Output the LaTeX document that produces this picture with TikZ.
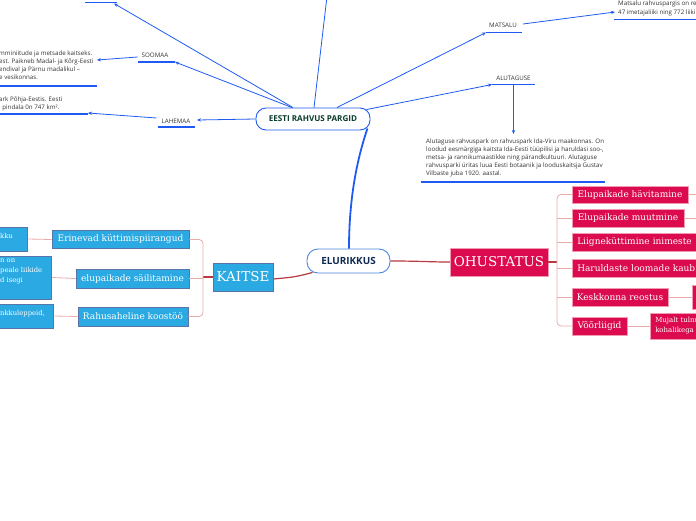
\documentclass[tikz,border=0pt]{standalone}
\usepackage{fontspec}
\setmainfont{DejaVu Serif}
\newfontfamily\osans{Open Sans}
\usetikzlibrary{arrows.meta,calc}
\definecolor{crim}{HTML}{DC0A4E}
\definecolor{crimedge}{HTML}{F29AB0}
\definecolor{sky}{HTML}{2AA9E2}
\definecolor{skyedge}{HTML}{5A74A8}
\definecolor{lnk}{HTML}{1F5BF2}
\definecolor{pinkln}{HTML}{E9AAAA}
\definecolor{redln}{HTML}{B63A3E}
\definecolor{navy}{HTML}{0E2A52}
\definecolor{dgreen}{HTML}{0B3A2C}
\definecolor{pillblue}{HTML}{4A87DE}
\definecolor{txt}{HTML}{333333}
\tikzset{
 rbox/.style={fill=crim, draw=crimedge, line width=0.5pt, text=white, inner sep=0pt, font=\fontsize{9}{10}\selectfont},
 bbox/.style={fill=sky, draw=skyedge, line width=0.6pt, text=white, inner sep=0pt, font=\fontsize{9}{10}\selectfont},
 pill/.style={rounded corners=10pt, fill=white, line width=0.9pt, inner sep=0pt},
 lnkarrow/.style={draw=lnk, line width=0.8pt, -{Stealth[length=4pt,width=3.4pt]}},
 lnkline/.style={draw=lnk, line width=0.8pt},
 uline/.style={draw=lnk, line width=1.5pt},
 lab/.style={font=\osans\fontsize{6.2}{7}\selectfont, text=txt, inner sep=0pt},
 desc/.style={font=\osans\fontsize{6.2}{8.2}\selectfont, text=txt, inner sep=0pt, align=left},
 pinkc/.style={draw=pinkln, line width=0.8pt},
 redc/.style={draw=redln, line width=1.2pt},
 gtext/.style={font=\fontsize{6.8}{10}\selectfont, text=white, inner sep=0pt, align=left},
}
\begin{document}
\begin{tikzpicture}[x=1pt,y=-1pt]
\useasboundingbox (0,0) rectangle (696,520);
\clip (0,0) rectangle (696,520);

% ---------- central nodes
\node[pill, draw=lnk, minimum width=114pt, minimum height=22pt, text=dgreen, font=\osans\bfseries\fontsize{8.1}{9}\selectfont] (eesti) at (313,119) {EESTI RAHVUS PARGID};
\node[pill, rounded corners=11pt, draw=pillblue, minimum width=83pt, minimum height=24pt, text=navy, font=\osans\bfseries\fontsize{9.9}{11}\selectfont] (eliri) at (348.5,261) {ELURIKKUS};

% ---------- park labels
\node[lab] (soomaa) at (155,55) {SOOMAA};
\node[lab] (lahemaa) at (176,121) {LAHEMAA};
\node[lab] (matsalu) at (503,25) {MATSALU};
\node[lab] (alutag) at (513.5,78) {ALUTAGUSE};

\coordinate (tlA) at (85,2.5); \coordinate (tlB) at (117,2.5); \coordinate (tlTip) at (114,3.5);
\coordinate (soU1) at (138,62); \coordinate (soU2) at (175,62);
\coordinate (laU1) at (158,127); \coordinate (laU2) at (195,127); \coordinate (laTip) at (197,120);
\coordinate (maU1) at (486,32.5); \coordinate (maU2) at (522,32.5);
\coordinate (alU1) at (492,84.5); \coordinate (alU2) at (535,84.5);
\coordinate (topEnd) at (327.5,-8);
\draw[uline] (tlA) -- (tlB);
\draw[uline] (soU1) -- (soU2);
\draw[uline] (laU1) -- (laU2);
\draw[uline] (maU1) -- (maU2);
\draw[uline] (alU1) -- (alU2);

\draw[lnkarrow] ([xshift=-20pt]eesti.north) -- (tlTip);
\draw[lnkarrow] ([xshift=-21pt]eesti.north) -- (soU2);
\draw[lnkline] ([xshift=1pt]eesti.north) -- (topEnd);
\draw[lnkarrow] ([xshift=24pt]eesti.north) -- (maU1);
\draw[lnkarrow] ([xshift=-4pt,yshift=-2pt]eesti.north east) -- (alU1);
\draw[lnkarrow] (eesti.west) -- (laTip);

% ---------- descriptions
\node[desc, anchor=north west] (soDesc) at (-1,50.3) {mminiitude ja metsade kaitseks.\\est. Paikneb Madal- ja Kõrg-Eesti\\endival ja Pärnu madalikul –\\e vesikonnas.};
\node[desc, anchor=north west] (laDesc) at (-1,96.3) {ark Põhja-Eestis. Eesti\\i pindala 0n 747 km².};
\node[desc, anchor=north west, font=\osans\fontsize{6.2}{9}\selectfont] (maDesc) at (618,1) {Matsalu rahvuspargis on reg\\47 imetajaliiki ning 772 liiki s};
\node[desc, anchor=north west] (alDesc) at (426,138.2) {Alutaguse rahvuspark on rahvuspark Ida-Viru maakonnas. On\\loodud eesmärgiga kaitsta Ida-Eesti tüüpilisi ja haruldasi soo-,\\metsa- ja rannikumaastikke ning pärandkultuuri. Alutaguse\\rahvusparki üritas luua Eesti botaanik ja looduskaitsja Gustav\\Vilbaste juba 1920. aastal.};

\coordinate (soTip) at (97,60); \coordinate (laDTip) at (88,113);
\coordinate (maTip) at (615,12); \coordinate (alTip) at (513.5,134);
\coordinate (alMid) at (513.5,84.5);
\draw[lnkarrow] ([xshift=-4pt,yshift=-2pt]soomaa.west) -- (soTip);
\draw[lnkarrow] ([xshift=-5pt,yshift=3pt]lahemaa.west) -- (laDTip);
\draw[lnkarrow] ([xshift=6pt,yshift=1pt]matsalu.east) -- (maTip);
\draw[lnkarrow] (alMid) -- (alTip);

\coordinate (soL1) at (-2,86); \coordinate (soL2) at (97,86);
\coordinate (laL1) at (-2,114); \coordinate (laL2) at (88,114);
\coordinate (maL1) at (614,19.5); \coordinate (maL2) at (700,19.5);
\coordinate (alL1) at (421,182); \coordinate (alL2) at (605,182);
\draw[uline] (soL1) -- (soL2);
\draw[uline] (laL1) -- (laL2);
\draw[uline] (maL1) -- (maL2);
\draw[uline] (alL1) -- (alL2);

% ---------- EESTI -> ELURIKKUS
\draw[draw=lnk, line width=1.8pt] ([xshift=-3pt,yshift=2pt]eesti.south east) .. controls (355,165) and (349,205) .. ([xshift=0.5pt]eliri.north);

% ---------- OHUSTATUS side
\node[rbox, minimum width=98pt, minimum height=28pt, font=\fontsize{13.5}{14}\selectfont] (ohu) at (499,262) {OHUSTATUS};
\node[rbox, minimum width=116pt, minimum height=17.5pt] (hav) at (630,194.5) {Elupaikade hävitamine};
\node[rbox, minimum width=112pt, minimum height=18pt] (muut) at (628,218) {Elupaikade muutmine};
\node[rbox, anchor=west, minimum height=18pt, inner xsep=5pt, text width=126pt, align=left] (liig) at (572,242) {Liigneküttimine inimeste};
\node[rbox, anchor=west, minimum height=18pt, inner xsep=5pt, text width=126pt, align=left] (haru) at (572,268) {Haruldaste loomade kaub};
\node[rbox, minimum width=96pt, minimum height=18pt] (kesk) at (620,297) {Keskkonna reostus};
\node[rbox, minimum width=55pt, minimum height=18pt] (voor) at (599.5,326) {Võõrliigid};
\node[rbox, anchor=west, minimum width=20pt, minimum height=24pt] (keskg) at (692,297) {};
\node[rbox, anchor=west, minimum height=26pt, inner xsep=5pt, text width=60pt, align=left, font=\fontsize{7}{10}\selectfont] (voorg) at (650,326) {Mujalt tulnu\\kohalikega};

\coordinate (ob) at (557,262);
\draw[redc] (eliri.east) .. controls (420,261) and (430,262) .. (ohu.west);
\draw[redc] (ohu.east) -- (ob);
\draw[pinkc, rounded corners=4pt] (hav.west) -| (ob);
\draw[pinkc, rounded corners=4pt] (voor.west) -| (ob);
\draw[pinkc] (muut.west) -- (muut.west -| ob);
\draw[pinkc] (liig.west) -- (liig.west -| ob);
\draw[pinkc] (haru.west) -- (haru.west -| ob);
\draw[pinkc] (kesk.west) -- (kesk.west -| ob);
\coordinate (rh1) at (700,194.5); \coordinate (rh2) at (700,218);
\draw[pinkc] (hav.east) -- (rh1);
\draw[pinkc] (muut.east) -- (rh2);
\draw[pinkc] (kesk.east) -- (keskg.west);
\draw[pinkc] (voor.east) -- (voorg.west);

% ---------- KAITSE side
\node[bbox, minimum width=60pt, minimum height=28pt, font=\fontsize{13.5}{14}\selectfont] (kaitse) at (243,277) {KAITSE};
\node[bbox, minimum width=137pt, minimum height=17.5pt] (erin) at (120.5,239.5) {Erinevad küttimispiirangud};
\node[bbox, minimum width=113pt, minimum height=19pt] (elup) at (132.5,278.5) {elupaikade säilitamine};
\node[bbox, minimum width=110pt, minimum height=19pt] (rahu) at (133,316.5) {Rahusaheline koostöö};
\node[bbox, anchor=east, minimum width=40pt, minimum height=24pt] (g1) at (28,239) {};
\node[bbox, anchor=east, minimum width=62pt, minimum height=43pt] (g2) at (52,277.5) {};
\node[bbox, anchor=east, minimum width=64pt, minimum height=24pt] (g3) at (54,316) {};
\node[gtext, anchor=base west] (g1t) at (0,238.5) {kku};
\node[gtext, anchor=north west] (g2t) at (0,259) {n on\\peale liikide\\d isegi};
\node[gtext, anchor=base west] (g3t) at (0,315.5) {nkkuleppeid,};

\coordinate (kb) at (203,278);
\draw[redc] ([xshift=6pt,yshift=1pt]eliri.south west) .. controls (295,277) .. ([yshift=-2pt]kaitse.east);
\draw[redc] (kaitse.west) -- (kaitse.west -| kb);
\draw[pinkc, rounded corners=4pt] (erin.east) -| (kb);
\draw[pinkc, rounded corners=4pt] (rahu.east) -| (kb);
\draw[pinkc] (elup.east) -- (elup.east -| kb);
\draw[pinkc] (g1.east) -- (erin.west);
\draw[pinkc] (g2.east) -- (elup.west);
\draw[pinkc] (g3.east) -- (rahu.west);
\end{tikzpicture}
\end{document}
